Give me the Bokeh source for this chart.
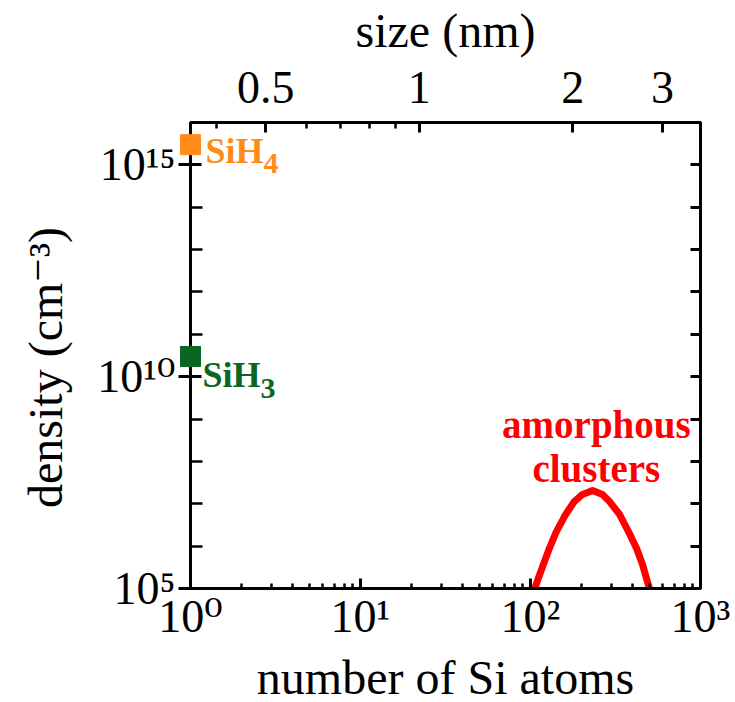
from bokeh.plotting import figure
from bokeh.models import (LogAxis, Range1d, LogScale, FixedTicker,
                          CustomJSTickFormatter, ColumnDataSource)
from bokeh.core.properties import value
from bokeh.embed import file_html
from bokeh.resources import INLINE

# ---------------- data ----------------
species_base = ["SiH", "SiH"]
species_sub = ["4", "3"]
species_n = [1, 1]
species_density = [3.0e15, 3.0e10]
species_colors = ["#FF8C1A", "#0B6623"]

cluster_n = [101, 106, 111, 119, 129, 142, 161, 181, 202, 232,
             265, 292, 334, 377, 421, 456, 481, 501, 508]
cluster_density = [8.5e4, 1.0e5, 1.72e5, 3.69e5, 8.8e5, 2.2e6, 5.6e6, 1.13e7, 1.66e7, 2.06e7,
                   1.66e7, 1.13e7, 5.6e6, 2.2e6, 8.8e5, 3.69e5, 1.72e5, 1.0e5, 8.5e4]

cluster_label = ["amorphous", "clusters"]
cluster_label_n = [244, 244]
cluster_label_density = [3.7e8, 3.4e7]

x_ticks = [1, 10, 100, 1000]
x_tick_labels = ["10\u2070", "10\u00b9", "10\u00b2", "10\u00b3"]
x_minor = [2, 3, 4, 5, 6, 7, 8, 9, 20, 30, 40, 50, 60, 70, 80, 90,
           200, 300, 400, 500, 600, 700, 800, 900]

y_ticks = [1e5, 1e10, 1e15]
y_tick_labels = ["10\u2075", "10\u00b9\u2070", "10\u00b9\u2075"]
y_minor = [1e6, 1e7, 1e8, 1e9, 1e11, 1e12, 1e13, 1e14, 1e16]
y_all = [1e5, 1e6, 1e7, 1e8, 1e9, 1e10, 1e11, 1e12, 1e13, 1e14, 1e15, 1e16]

size_ticks = [0.5, 1, 2, 3]
size_tick_labels = ["0.5", "1", "2", "3"]
size_minor = [0.4, 0.6, 0.7, 0.8, 0.9]
size_range = [0.356, 3.56]   # cluster diameter (nm) at N = 1 and N = 1000

FONT = "Liberation Serif"
TICK_FONT = "Liberation Serif, DejaVu Serif"

# ---------------- figure ----------------
p = figure(frame_width=510, frame_height=466,
           x_axis_type="log", y_axis_type="log",
           x_range=Range1d(1, 1000), y_range=Range1d(1e5, 1e16),
           output_backend="svg", toolbar_location=None,
           min_border_left=190, min_border_right=35,
           min_border_top=121, min_border_bottom=115,
           background_fill_color="white", border_fill_color="white")
p.grid.visible = False
p.outline_line_color = "black"
p.outline_line_width = 3

def style_axis(ax, label_size="46px"):
    ax.axis_line_width = 3
    ax.axis_line_color = "black"
    ax.major_tick_line_width = 3
    ax.minor_tick_line_width = 2.5
    ax.major_tick_line_color = "black"
    ax.minor_tick_line_color = "black"
    ax.major_label_text_font = TICK_FONT
    ax.major_label_text_font_size = label_size
    ax.major_label_text_color = "black"
    ax.axis_label_text_font = TICK_FONT
    ax.axis_label_text_font_size = "48px"
    ax.axis_label_text_font_style = "normal"
    ax.axis_label_text_color = "black"

# bottom axis
xa = p.xaxis[0]
xa.ticker = FixedTicker(ticks=x_ticks, minor_ticks=x_minor)
xa.major_label_overrides = dict(zip(x_ticks, x_tick_labels))
xa.axis_label = "number of Si atoms"
style_axis(xa)
xa.major_tick_in = 10
xa.major_tick_out = 0
xa.minor_tick_in = 5
xa.minor_tick_out = 0
xa.major_label_standoff = 2
xa.axis_label_standoff = 6

# left axis
ya = p.yaxis[0]
ya.ticker = FixedTicker(ticks=y_ticks, minor_ticks=y_minor)
ya.major_label_overrides = dict(zip(y_ticks, y_tick_labels))
ya.axis_label = "density (cm\u207b\u00b3)\u00a0\u00a0"
style_axis(ya)
ya.major_tick_in = 11
ya.major_tick_out = 12
ya.minor_tick_in = 12
ya.minor_tick_out = 0
ya.major_label_standoff = 3
ya.axis_label_standoff = 22

# top axis: cluster size
p.extra_x_ranges = {"size": Range1d(size_range[0], size_range[1])}
p.extra_x_scales = {"size": LogScale()}
top = LogAxis(x_range_name="size", axis_label="size (nm)")
top.ticker = FixedTicker(ticks=size_ticks, minor_ticks=size_minor)
top.major_label_overrides = dict(zip(size_ticks, size_tick_labels))
style_axis(top)
top.major_tick_in = 10
top.major_tick_out = 0
top.minor_tick_in = 6
top.minor_tick_out = 0
top.major_label_standoff = 20
top.axis_label_standoff = 12
p.add_layout(top, "above")

# right axis: ticks only
right = LogAxis()
right.ticker = FixedTicker(ticks=y_all, minor_ticks=[])
right.formatter = CustomJSTickFormatter(code="return ''")
style_axis(right)
right.major_tick_in = 10
right.major_tick_out = 0
right.minor_tick_in = 0
right.minor_tick_out = 0
right.major_label_standoff = 0
p.add_layout(right, "right")

# ---------------- glyphs ----------------
src = ColumnDataSource(dict(n=species_n, d=species_density, c=species_colors,
                            base=species_base, sub=species_sub))
p.scatter("n", "d", source=src, marker="square", size=20, color="c", level="overlay")

# SiH4 labels
p.text(x=[species_n[0]], y=[species_density[0]], text=[species_base[0]],
       text_font=value(FONT), text_font_style="bold", text_font_size="36px",
       text_color=species_colors[0], text_baseline="alphabetic", text_align="left",
       x_offset=15, y_offset=6)
p.text(x=[species_n[0]], y=[species_density[0]], text=[species_sub[0]],
       text_font=value(FONT), text_font_style="bold", text_font_size="30px",
       text_color=species_colors[0], text_baseline="alphabetic", text_align="left",
       x_offset=73, y_offset=19)
# SiH3 labels
p.text(x=[species_n[1]], y=[species_density[1]], text=[species_base[1]],
       text_font=value(FONT), text_font_style="bold", text_font_size="36px",
       text_color=species_colors[1], text_baseline="alphabetic", text_align="left",
       x_offset=12, y_offset=19)
p.text(x=[species_n[1]], y=[species_density[1]], text=[species_sub[1]],
       text_font=value(FONT), text_font_style="bold", text_font_size="30px",
       text_color=species_colors[1], text_baseline="alphabetic", text_align="left",
       x_offset=70, y_offset=32)

# amorphous clusters distribution
p.line(cluster_n, cluster_density, line_width=7, line_color="#FF0000",
       line_join="round")
p.text(x=cluster_label_n, y=cluster_label_density, text=cluster_label,
       text_font=value(FONT), text_font_style="bold", text_font_size="39px",
       text_color="#FF0000", text_baseline="alphabetic", text_align="center",
       y_offset=-13)

open("out.html", "w").write(file_html(p, INLINE))
